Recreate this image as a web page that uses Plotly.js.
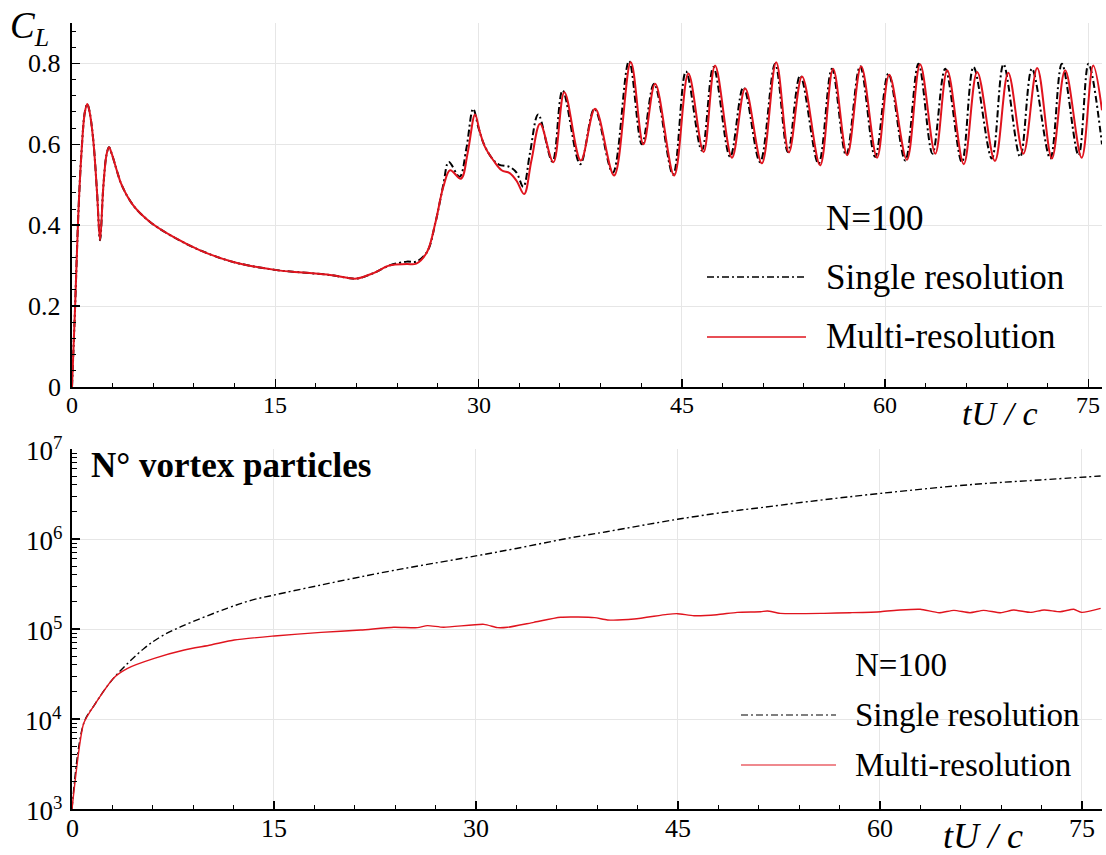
<!DOCTYPE html>
<html>
<head>
<meta charset="utf-8">
<script src="https://cdn.plot.ly/plotly-3.0.1.min.js"></script>
<style>html,body{margin:0;padding:0;background:#fff;}#chart{width:1106px;height:855px;}</style>
</head>
<body>
<div id="chart"></div>
<script>
// ---------- DATA ----------
const legendTitle = "N=100";
const seriesNames = ["Single resolution", "Multi-resolution"];
const xTitle = "tU / c";
const clTitle = "<i>C</i><sub><i>L</i></sub>";
const countTitle = "N° vortex particles";

// Lift coefficient, multi-resolution
const tMultiCL = [0,0.22,0.47,0.71,0.95,1.13,1.3,1.57,1.85,2.07,2.31,2.55,2.73,2.95,3.3,3.67,4.52,5.76,7.48,9.45,11.9,15.1,17,19.04,20.3,21.0,22.2,23.47,24.7,25.4,26.2,26.8,27.4,27.9,28.7,29.2,29.74,30.1,30.48,31.1,31.7,32.3,32.8,33.36,33.9,34.54,35.52,36.33,37.54,38.6,40.0,41.23,42.16,43.03,44.43,45.48,46.6,47.45,48.7,49.67,50.9,51.96,52.9,53.87,55.2,56.16,57.2,58.23,59.4,60.3,61.6,62.58,63.7,64.58,65.8,66.79,68.1,69.08,70.2,71.22,72.3,73.28,74.5,75.35,76.0];
const clMulti = [0,0.19,0.43,0.585,0.68,0.70,0.68,0.61,0.48,0.363,0.495,0.575,0.593,0.575,0.536,0.499,0.449,0.408,0.371,0.338,0.309,0.289,0.283,0.277,0.27,0.268,0.281,0.301,0.304,0.305,0.334,0.404,0.495,0.536,0.515,0.58,0.674,0.63,0.593,0.56,0.536,0.529,0.51,0.477,0.56,0.651,0.556,0.729,0.56,0.688,0.523,0.803,0.60,0.75,0.523,0.775,0.581,0.795,0.567,0.738,0.553,0.803,0.58,0.768,0.548,0.787,0.573,0.793,0.567,0.772,0.562,0.798,0.577,0.783,0.551,0.779,0.559,0.777,0.577,0.789,0.565,0.783,0.567,0.795,0.684];

// Lift coefficient, single resolution
const tSingleCL = [0,0.22,0.47,0.71,0.95,1.13,1.3,1.57,1.85,2.07,2.31,2.55,2.73,2.95,3.3,3.67,4.52,5.76,7.48,9.45,11.9,15.1,17,19.04,20.3,21.0,22.2,23.47,24.7,25.4,26.2,26.8,27.4,27.8,28.6,29.1,29.6,30.0,30.4,31.0,31.5,32.3,32.8,33.3,33.8,34.4,35.45,36.2,37.5,38.55,39.9,41.1,42.05,42.95,44.35,45.3,46.47,47.33,48.56,49.54,50.77,51.88,52.82,53.73,55.08,56.07,57.12,58.15,59.26,60.24,61.48,62.46,63.49,64.43,65.66,66.52,67.87,68.73,69.96,70.83,72.18,73.04,74.27,75.0,76.0];
const clSingle = [0,0.19,0.43,0.585,0.68,0.70,0.68,0.61,0.48,0.363,0.495,0.575,0.593,0.575,0.536,0.499,0.449,0.408,0.371,0.338,0.309,0.289,0.283,0.277,0.27,0.268,0.281,0.301,0.31,0.31,0.334,0.404,0.50,0.556,0.52,0.59,0.688,0.64,0.60,0.565,0.55,0.544,0.53,0.495,0.58,0.674,0.557,0.733,0.551,0.688,0.53,0.806,0.60,0.75,0.525,0.78,0.585,0.791,0.569,0.741,0.556,0.799,0.581,0.770,0.552,0.787,0.573,0.793,0.569,0.775,0.560,0.799,0.577,0.787,0.556,0.791,0.565,0.798,0.569,0.787,0.565,0.799,0.573,0.799,0.60];

// Number of vortex particles
const tMultiN = [0,0.87,1.66,3.14,4.13,6.11,8.34,10.3,12.05,15.02,18.5,21.45,23.9,25.66,26.4,27.6,30.6,31.6,32.35,34.3,36.3,38.8,39.77,41.75,44.2,44.97,46.2,47.9,49.4,51.15,51.65,52.6,55.85,57.8,60.06,61.5,63.0,64.4,65.5,66.7,67.7,68.97,69.95,71.2,72.2,73.4,74.4,75.0,76.4];
const nMulti = [1000,8950,14300,29000,36600,47200,58500,66400,75500,83600,91800,97500,104500,103500,109000,104500,112700,103500,104500,118600,135000,133700,126000,129000,145500,148000,140600,144200,153100,155600,158500,149300,149300,151700,155600,162600,165600,151700,161100,151700,161100,151700,162600,153100,162600,155600,165600,153100,169800];
const tSingleN = [0,0.87,1.66,3.14,5.37,6.6,8.09,11.56,13.3,15.02,18.5,21.95,24.4,25.9,30.1,33.0,36.8,39.7,44.97,49.67,51.15,54.6,60.06,67.0,71.9,76.4];
const nSingle = [1000,8950,14300,29000,61100,82200,106200,170600,208000,238800,308300,393600,462400,507000,653100,785200,1016000,1205000,1656000,2099000,2228000,2594000,3214000,4046000,4530000,5012000];

const xTicks = [0,15,30,45,60,75];
const xTickText = ["0","15","30","45","60","75"];
const clTicks = [0,0.2,0.4,0.6,0.8];
const clTickText = ["0","0.2","0.4","0.6","0.8"];
const nTicks = [1e3,1e4,1e5,1e6,1e7];
const nTickText = ["10<sup>3</sup>","10<sup>4</sup>","10<sup>5</sup>","10<sup>6</sup>","10<sup>7</sup>"];

// ---------- STYLE / LAYOUT ----------
const W = 1106, H = 855, L = 72, R = 4, T = 23, B = 46;
const px2x = p => (p - L) / (W - L - R);
const py2y = p => (H - B - p) / (H - T - B);
const FONT = 'Liberation Serif, Times New Roman, serif';
const RED = '#e0141e';
const DASHDOT = '7px,3px,2px,3px';

const traces = [
  {x: tSingleCL, y: clSingle, xaxis: 'x', yaxis: 'y', mode: 'lines', name: seriesNames[0],
   line: {color: '#000', width: 2, dash: DASHDOT, shape: 'spline', smoothing: 1}},
  {x: tMultiCL, y: clMulti, xaxis: 'x', yaxis: 'y', mode: 'lines', name: seriesNames[1],
   line: {color: RED, width: 2, shape: 'spline', smoothing: 1}},
  {x: tSingleN, y: nSingle, xaxis: 'x2', yaxis: 'y2', mode: 'lines', name: seriesNames[0],
   line: {color: '#000', width: 1.4, dash: DASHDOT, shape: 'spline', smoothing: 1}},
  {x: tMultiN, y: nMulti, xaxis: 'x2', yaxis: 'y2', mode: 'lines', name: seriesNames[1],
   line: {color: RED, width: 1.4, shape: 'spline', smoothing: 0.6}}
];

function axis(extra) {
  return Object.assign({
    showline: true, linecolor: '#000', linewidth: 2, mirror: false,
    ticks: 'inside', ticklen: 8, tickwidth: 1.5, tickcolor: '#000',
    showgrid: true, gridcolor: '#e6e6e6', gridwidth: 1, zeroline: false,
    tickmode: 'array', showticklabels: false
  }, extra);
}
const minorLin = d => ({dtick: d, tick0: 0, ticks: 'inside', ticklen: 4, tickwidth: 1, tickcolor: '#000', showgrid: false});

const ann = [];
function txt(o) { ann.push(Object.assign({showarrow: false}, o)); }

// tick labels (drawn as annotations tied to the axes)
xTicks.forEach((v, i) => txt({xref: 'x', yref: 'paper', x: v, y: py2y(390), xanchor: 'center', yanchor: 'top',
  text: xTickText[i], font: {family: FONT, size: 24, color: '#000'}}));
clTicks.forEach((v, i) => txt({xref: 'paper', yref: 'y', x: px2x(63), y: v, xanchor: 'right', yanchor: 'middle',
  text: clTickText[i], font: {family: FONT, size: 26, color: '#000'}}));
xTicks.forEach((v, i) => txt({xref: 'x2', yref: 'paper', x: v, y: py2y(812), xanchor: 'center', yanchor: 'top',
  text: xTickText[i], font: {family: FONT, size: 26, color: '#000'}}));
nTicks.forEach((v, i) => txt({xref: 'paper', yref: 'y2', x: px2x(64), y: Math.log10(v), xanchor: 'right', yanchor: 'middle',
  text: nTickText[i], font: {family: FONT, size: 27, color: '#000'}}));

// titles
txt({xref: 'paper', yref: 'paper', x: px2x(8), y: py2y(28), xanchor: 'left', yanchor: 'middle',
  text: clTitle, font: {family: FONT, size: 37, color: '#000'}});
txt({xref: 'paper', yref: 'paper', x: px2x(1000), y: py2y(413), xanchor: 'center', yanchor: 'middle',
  text: '<i>' + xTitle + '</i>', font: {family: FONT, size: 34, color: '#000'}});
txt({xref: 'paper', yref: 'paper', x: px2x(983), y: py2y(836), xanchor: 'center', yanchor: 'middle',
  text: '<i>' + xTitle + '</i>', font: {family: FONT, size: 36, color: '#000'}});
txt({xref: 'paper', yref: 'paper', x: px2x(89), y: py2y(465), xanchor: 'left', yanchor: 'middle',
  text: '<b>' + countTitle + '</b>', font: {family: FONT, size: 35, color: '#000'}});

// legends
[[218, legendTitle], [277, seriesNames[0]], [337, seriesNames[1]]].forEach(([py, s]) =>
  txt({xref: 'paper', yref: 'paper', x: px2x(824), y: py2y(py), xanchor: 'left', yanchor: 'middle',
    text: s, font: {family: FONT, size: 35, color: '#000'}}));
[[665, legendTitle], [715, seriesNames[0]], [765, seriesNames[1]]].forEach(([py, s]) =>
  txt({xref: 'paper', yref: 'paper', x: px2x(853), y: py2y(py), xanchor: 'left', yanchor: 'middle',
    text: s, font: {family: FONT, size: 33, color: '#000'}}));

const layout = {
  width: W, height: H,
  margin: {l: L, r: R, t: T, b: B, pad: 0},
  paper_bgcolor: '#fff', plot_bgcolor: '#fff',
  showlegend: false,
  font: {family: FONT, size: 22, color: '#000'},
  xaxis: axis({domain: [0, 1], anchor: 'y', range: [0, 76], tickvals: xTicks, minor: minorLin(3)}),
  yaxis: axis({domain: [py2y(387), 1], anchor: 'x', range: [0, 0.9], tickvals: clTicks, minor: minorLin(0.04)}),
  xaxis2: axis({domain: [0, 1], anchor: 'y2', range: [0, 76.5], tickvals: xTicks, minor: minorLin(3)}),
  yaxis2: axis({domain: [0, py2y(449)], anchor: 'x2', type: 'log', range: [3, 7], tickvals: nTicks,
    minor: {dtick: 'D1', ticks: 'inside', ticklen: 5, tickwidth: 1, tickcolor: '#000', showgrid: false}}),
  shapes: [
    {type: 'rect', xref: 'paper', yref: 'paper', layer: 'between', x0: px2x(707), x1: px2x(1072), y0: py2y(362), y1: py2y(195), fillcolor: '#fff', line: {width: 0}},
    {type: 'rect', xref: 'paper', yref: 'paper', layer: 'between', x0: px2x(690), x1: px2x(1087), y0: py2y(788), y1: py2y(645), fillcolor: '#fff', line: {width: 0}},
    {type: 'rect', xref: 'paper', yref: 'paper', layer: 'between', x0: px2x(75), x1: px2x(380), y0: py2y(483), y1: py2y(448), fillcolor: '#fff', line: {width: 0}},
    {type: 'line', xref: 'paper', yref: 'paper', x0: px2x(707), x1: px2x(806), y0: py2y(277), y1: py2y(277), line: {color: '#000', width: 1.5, dash: DASHDOT}},
    {type: 'line', xref: 'paper', yref: 'paper', x0: px2x(707), x1: px2x(806), y0: py2y(337), y1: py2y(337), line: {color: RED, width: 1.5}},
    {type: 'line', xref: 'paper', yref: 'paper', x0: px2x(741), x1: px2x(836), y0: py2y(715), y1: py2y(715), line: {color: '#000', width: 1.2, dash: DASHDOT}},
    {type: 'line', xref: 'paper', yref: 'paper', x0: px2x(741), x1: px2x(836), y0: py2y(765), y1: py2y(765), line: {color: RED, width: 1.2}}
  ],
  annotations: ann
};

Plotly.newPlot('chart', traces, layout, {staticPlot: true, displayModeBar: false});
</script>
</body>
</html>
